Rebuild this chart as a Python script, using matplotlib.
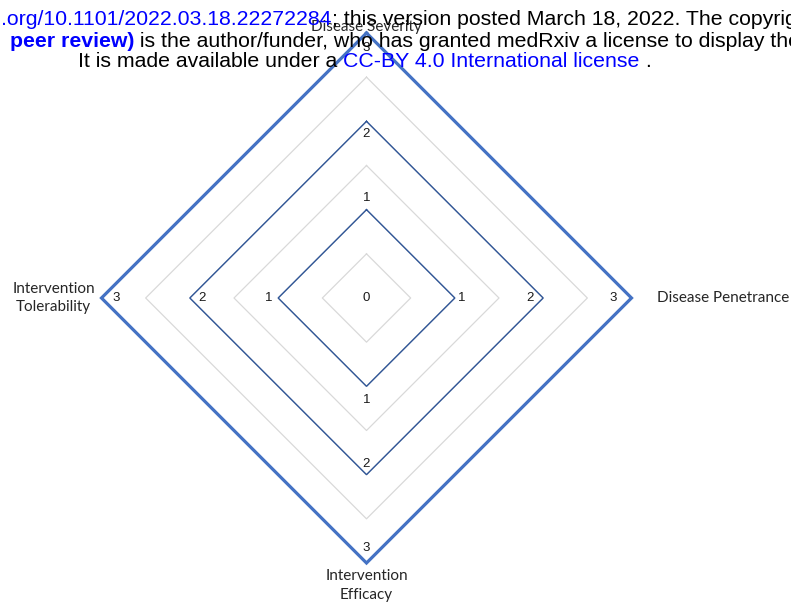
import matplotlib
matplotlib.use("Agg")
import matplotlib.pyplot as plt
import numpy as np

# radar axes, clockwise from the top
categories = ["Disease Severity", "Disease Penetrance",
              "Intervention\nEfficacy", "Intervention\nTolerability"]
levels = [0, 1, 2, 3]          # one diamond per score level
max_score = 3
grid_step = 0.5

# medRxiv watermark lines: (text, colour, bold) pieces
header_lines = [
    [(".org/10.1101/2022.03.18.22272284", "#0000FF", False),
     ("; this version posted March 18, 2022. The copyrig", "black", False)],
    [("peer review)", "#0000FF", True),
     (" is the author/funder, who has granted medRxiv a license to display the", "black", False)],
    [("It is made available under a ", "black", False),
     ("CC-BY 4.0 International license", "#0000FF", False),
     (" .", "black", False)],
]
header_x = [1, 10, 78]          # pixels from left
header_base = [25, 47, 67]      # baseline, pixels from top

W, H = 791, 602
fig = plt.figure(figsize=(W / 100, H / 100), dpi=100)
cx, cy, R = 366.5, 298, 265
ax = fig.add_axes([(cx - R) / W, (H - cy - R) / H, 2 * R / W, 2 * R / H],
                  projection="polar")
ax.set_theta_offset(np.pi / 2)
ax.set_theta_direction(-1)
ax.set_ylim(0, max_score)
ax.grid(False)
ax.spines["polar"].set_visible(False)
ax.set_xticks([])
ax.set_yticks([])
ax.patch.set_alpha(0)

angles = np.arange(len(categories)) * 2 * np.pi / len(categories)
closed = np.append(angles, angles[0])

# gray diamond grid
for r in np.arange(grid_step, max_score + 0.01, grid_step):
    ax.plot(closed, [r] * len(closed), color="#D9D9D9", lw=0.9, zorder=1,
            clip_on=False)

# score diamonds
for lv in levels[1:]:
    thick = lv == max_score
    ax.plot(closed, [lv] * len(closed),
            color="#4472C4" if thick else "#2F5597",
            lw=2.3 if thick else 1.0, zorder=3, clip_on=False,
            solid_joinstyle="miter")

# data labels, pixel offsets (level 1 outside the line, 2 and 3 inside)
label_offsets = {
    0: [(0, 0)],
    1: [(0, 12), (7, 0), (0, -14), (-9, 0)],
    2: [(0, -13), (-13, 0), (0, 11), (12, 0)],
    3: [(0, -15), (-18, 0), (0, 15), (15, 0)],
}
for lv in levels:
    for a, (dx, dy) in zip(angles, label_offsets[lv]):
        ax.annotate(str(lv), xy=(a, lv), xytext=(dx * 0.72, dy * 0.72),
                    textcoords="offset points", ha="center", va="center",
                    fontsize=9.5, family="Liberation Sans", color="#1a1a1a",
                    zorder=5, annotation_clip=False)

# category labels
cat_offsets = [(0, -1), (26, 0), (0, -6), (-48, 0)]
cat_ha = ["center", "left", "center", "center"]
cat_va = ["bottom", "center", "top", "center"]
for a, name, (dx, dy), ha, va in zip(angles, categories, cat_offsets,
                                     cat_ha, cat_va):
    ax.annotate(name, xy=(a, max_score), xytext=(dx * 0.72, dy * 0.72),
                textcoords="offset points", ha=ha, va=va,
                fontsize=11, family="Lato", color="#262626",
                linespacing=1.45, zorder=5, annotation_clip=False)

# watermark header, pieces laid out one after another
renderer = fig.canvas.get_renderer()
for pieces, x0, base in zip(header_lines, header_x, header_base):
    x = x0
    for txt, col, bold in pieces:
        t = fig.text(x / W, 1 - base / H, txt, fontsize=15.3,
                     family="Liberation Sans", color=col,
                     fontweight="bold" if bold else "normal",
                     va="baseline", ha="left", zorder=10)
        x += t.get_window_extent(renderer).width

fig.savefig("out.png", dpi=100)
